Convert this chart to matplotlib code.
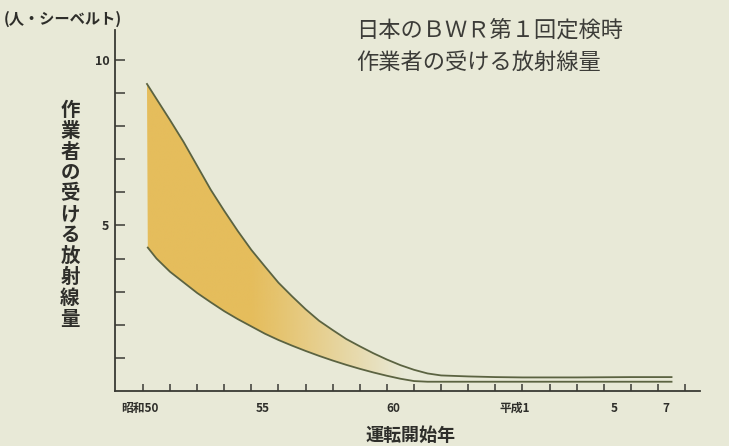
import numpy as np
import matplotlib
matplotlib.use("Agg")
import matplotlib.pyplot as plt
from matplotlib.colors import to_rgb

plt.rcParams['font.family'] = ['Noto Sans CJK JP', 'DejaVu Sans']

# ---- data (x = year offset from 昭和50 / 1975) ----
upper_x = [0.15, 0.5, 1.0, 1.5, 2.0, 2.5, 3.0, 3.5, 4.0, 4.5, 5.0, 5.5, 6.0, 6.5, 7.0,
           7.5, 8.0, 8.5, 9.0, 9.5, 10.0, 10.5, 11.0, 12.0, 13.0, 14.0, 16.0, 18.0, 19.5]
upper_y = [9.27, 8.82, 8.18, 7.52, 6.80, 6.08, 5.44, 4.83, 4.26, 3.76, 3.27, 2.86, 2.47, 2.12, 1.84,
           1.57, 1.35, 1.14, 0.95, 0.78, 0.64, 0.53, 0.47, 0.44, 0.42, 0.41, 0.41, 0.42, 0.42]
lower_x = [0.18, 0.5, 1.0, 1.5, 2.0, 2.5, 3.0, 3.5, 4.0, 4.5, 5.0, 5.5, 6.0, 6.5, 7.0,
           7.5, 8.0, 8.5, 9.0, 9.5, 10.0, 10.5, 11.0, 12.0, 13.0, 14.0, 16.0, 18.0, 19.5]
lower_y = [4.33, 4.00, 3.60, 3.28, 2.96, 2.68, 2.41, 2.17, 1.95, 1.73, 1.54, 1.37, 1.21, 1.06, 0.92,
           0.79, 0.67, 0.56, 0.46, 0.37, 0.30, 0.28, 0.28, 0.28, 0.28, 0.28, 0.28, 0.28, 0.28]

year0 = 1975
xtick_years = list(range(1975, 1996))
xlabel_pos = [1974.9, 1979.4, 1984.25, 1988.7, 1992.4, 1994.3]
xlabel_text = ['昭和50', '55', '60', '平成1', '5', '7']
ytick_minor = list(range(1, 11))
ylabel_pos = [5, 10]
ylabel_text = ['5', '10']

title_lines = ['日本のＢＷＲ第１回定検時', '作業者の受ける放射線量']
unit_text = '(人・シーベルト)'
y_title = '作業者の受ける放射線量'
x_title = '運転開始年'

BG = '#e8e9d7'
LINE = '#5b6341'
FILL = '#e5b84e'
TEXT = '#2e2e2a'

ux = np.array(upper_x) + year0
lx = np.array(lower_x) + year0
uy = np.array(upper_y)
ly = np.array(lower_y)

fig = plt.figure(figsize=(7.29, 4.46), dpi=100, facecolor=BG)
ax = fig.add_axes([115/729, 1 - 391/446, (700-115)/729, (391-30)/446])
ax.set_facecolor(BG)
ax.set_xlim(1975 - 1.03, 1975 + 20.55)
ax.set_ylim(0, 10.9)

# gradient fill between the curves
poly_x = np.concatenate([ux, lx[::-1]])
poly_y = np.concatenate([uy, ly[::-1]])
patch = ax.fill(poly_x, poly_y, facecolor='none', edgecolor='none')[0]
nx = 400
xs = np.linspace(ux[0], ux[-1], nx)
t = (xs - ux[0]) / 9.5
alpha = np.clip(1.0 - np.clip((t - 0.4) / 0.6, 0, 1) ** 1.1, 0, 1) * 0.9
rgb = np.array(to_rgb(FILL))
img = np.zeros((2, nx, 4))
img[..., :3] = rgb
img[..., 3] = alpha
im = ax.imshow(img, extent=[ux[0], ux[-1], 0, 10], aspect='auto', origin='lower',
               interpolation='bilinear', zorder=1)
im.set_clip_path(patch)

ax.plot(ux, uy, color=LINE, lw=1.3, zorder=3)
ax.plot(lx, ly, color=LINE, lw=1.3, zorder=3)

for s in ['top', 'right']:
    ax.spines[s].set_visible(False)
for s in ['left', 'bottom']:
    ax.spines[s].set_color('#3a3a34')
    ax.spines[s].set_linewidth(1.3)

ax.set_xticks(xlabel_pos)
ax.set_xticklabels(xlabel_text, fontsize=8.5, fontweight='bold', color=TEXT)
ax.set_xticks(xtick_years, minor=True)
ax.tick_params(axis='x', which='major', length=0, pad=8)
ax.tick_params(axis='x', which='minor', direction='in', length=5, width=1.1, color='#3a3a34')

ax.set_yticks(ylabel_pos)
ax.set_yticklabels(ylabel_text, fontsize=9, fontweight='bold', color=TEXT)
ax.set_yticks(ytick_minor, minor=True)
ax.tick_params(axis='y', which='major', direction='in', length=7, width=1.1, color='#3a3a34', pad=4)
ax.tick_params(axis='y', which='minor', direction='in', length=7, width=1.1, color='#3a3a34')

fig.text(4/729, 1 - 19/446, unit_text, fontsize=11, fontweight='bold', color=TEXT,
         ha='left', va='center')
fig.text(356/729, 1 - 30/446, title_lines[0], fontsize=16, color='#3c3c38',
         ha='left', va='center')
fig.text(356/729, 1 - 62/446, title_lines[1], fontsize=16, color='#3c3c38',
         ha='left', va='center')
fig.text(70/729, 1 - 215/446, '\n'.join(y_title), fontsize=14, fontweight='bold',
         color=TEXT, ha='center', va='center', linespacing=1.12)
fig.text(410/729, 1 - 435/446, x_title, fontsize=13, fontweight='bold', color=TEXT,
         ha='center', va='center')

fig.savefig('out.png', dpi=100, facecolor=BG)
